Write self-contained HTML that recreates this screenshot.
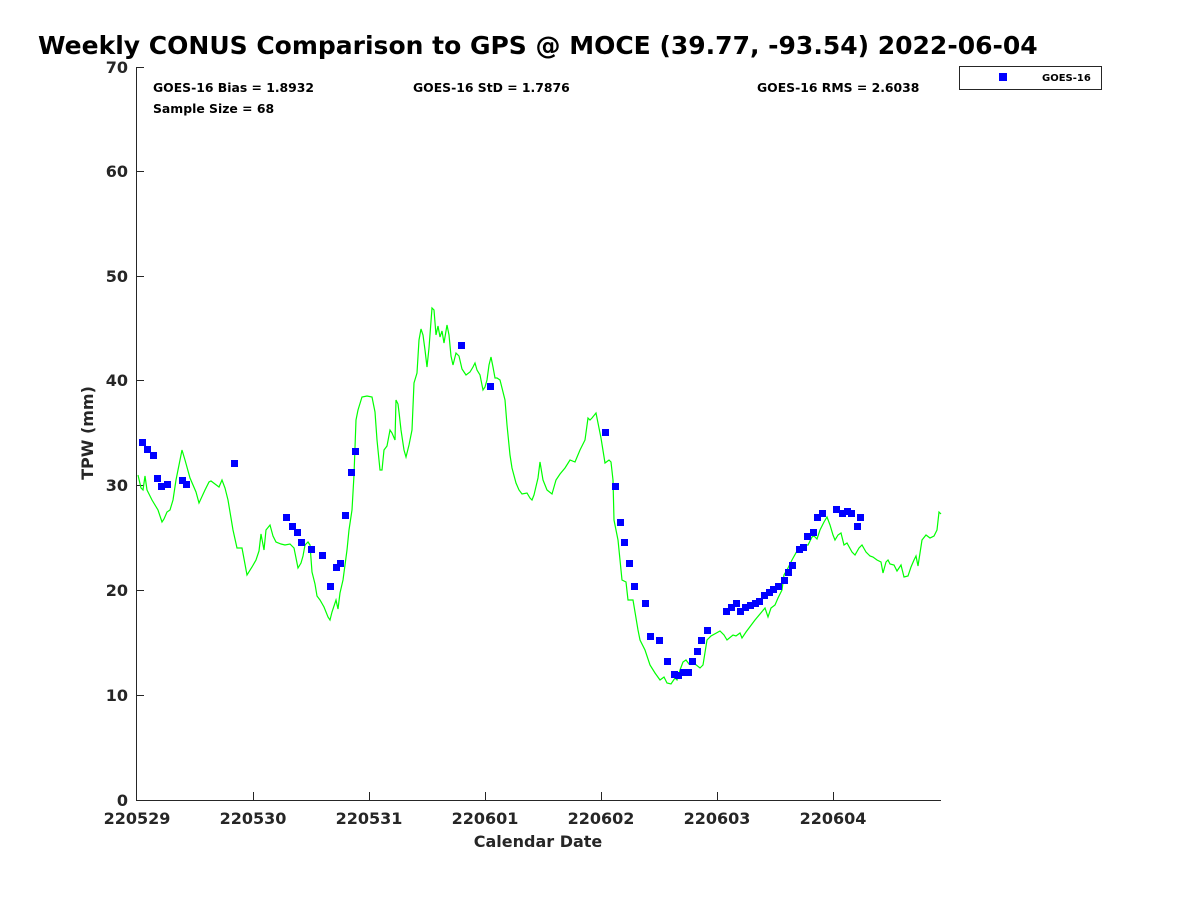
<!DOCTYPE html>
<html><head><meta charset="utf-8"><style>body{margin:0;background:#fff}svg{display:block}text{font-family:"DejaVu Sans","Liberation Sans",sans-serif;font-weight:bold}</style></head><body>
<svg width="1200" height="900" viewBox="0 0 1200 900">
<rect width="1200" height="900" fill="#fff"/>
<text x="38" y="54" font-size="25">Weekly CONUS Comparison to GPS @ MOCE (39.77, -93.54) 2022-06-04</text>
<g stroke="#262626" stroke-width="1" fill="none">
<line x1="136.5" y1="67" x2="136.5" y2="800"/>
<line x1="136" y1="800.5" x2="941" y2="800.5"/>
<line x1="136" y1="695.5" x2="144" y2="695.5"/><line x1="136" y1="590.5" x2="144" y2="590.5"/><line x1="136" y1="485.5" x2="144" y2="485.5"/><line x1="136" y1="380.5" x2="144" y2="380.5"/><line x1="136" y1="276.5" x2="144" y2="276.5"/><line x1="136" y1="171.5" x2="144" y2="171.5"/><line x1="136" y1="67.5" x2="144" y2="67.5"/>
<line x1="253.5" y1="800" x2="253.5" y2="792"/><line x1="369.5" y1="800" x2="369.5" y2="792"/><line x1="485.5" y1="800" x2="485.5" y2="792"/><line x1="601.5" y1="800" x2="601.5" y2="792"/><line x1="717.5" y1="800" x2="717.5" y2="792"/><line x1="833.5" y1="800" x2="833.5" y2="792"/>
</g>
<g font-size="16" fill="#262626" text-anchor="end">
<text x="128" y="806">0</text><text x="128" y="701">10</text><text x="128" y="596">20</text><text x="128" y="491">30</text><text x="128" y="386">40</text><text x="128" y="282">50</text><text x="128" y="177">60</text><text x="128" y="73">70</text>
</g>
<g font-size="16" fill="#262626" text-anchor="middle">
<text x="137" y="824">220529</text><text x="253" y="824">220530</text><text x="369" y="824">220531</text><text x="485" y="824">220601</text><text x="601" y="824">220602</text><text x="717" y="824">220603</text><text x="833" y="824">220604</text>
<text x="538" y="847">Calendar Date</text>
</g>
<text transform="translate(93,433) rotate(-90)" font-size="16" fill="#262626" text-anchor="middle">TPW (mm)</text>
<g font-size="12.4" fill="#000">
<text x="153" y="92">GOES-16 Bias = 1.8932</text><text x="413" y="92">GOES-16 StD = 1.7876</text><text x="757" y="92">GOES-16 RMS = 2.6038</text><text x="153" y="113">Sample Size = 68</text>
</g>
<rect x="959.5" y="66.5" width="142" height="23" fill="#fff" stroke="#262626"/>
<rect x="999" y="73" width="8" height="8" fill="#0000ff"/>
<text x="1042" y="81" font-size="10">GOES-16</text>
<polyline fill="none" stroke="#00ff00" stroke-width="1.2" points="138,475 141,488 143,490 145,476 147,490 152,500 158,510 162,522 164,519 167,512 170,510 173,500 176,480 179,465 182,450 185,460 190,478 196,492 199,503 205,490 209,482 211,481 215,484 219,487 222,480 225,488 228,500 233,530 237,548 242,548 247,575 252,567 256,560 259,551 261,534 264,550 266,530 270,525 273,536 276,542 281,544 285,545 290,544 294,548 296,558 298,568 301,563 303,556 305,545 308,542 310,545 312,572 315,584 317,596 320,600 324,607 328,617 330,620 332,612 336,600 338,609 340,593 343,580 347,550 349,530 352,510 354,475 356,420 358,410 362,397 367,396 372,397 375,412 377,440 380,470 382,470 384,450 387,446 390,430 392,433 395,440 396,400 398,404 399,412 401,430 404,450 406,457 409,445 412,430 414,383 417,373 419,340 421,329 423,335 425,350 427,367 429,348 432,308 434,310 436,335 438,326 440,337 442,331 444,343 447,325 449,335 451,356 453,365 456,353 459,356 462,369 466,375 470,372 473,367 475,363 477,370 480,375 483,390 485,387 487,380 489,365 491,357 493,367 495,378 497,378 500,380 505,400 507,425 510,455 512,468 516,483 519,490 522,494 527,493 530,498 532,500 534,495 538,478 540,462 543,480 547,490 552,494 556,480 560,474 565,468 570,460 575,462 580,450 585,440 588,418 590,420 592,418 596,413 601,438 605,463 609,460 611,462 613,480 614,520 618,540 622,580 626,582 628,600 633,600 638,630 640,640 645,650 650,665 655,673 660,680 664,677 667,683 671,684 675,678 677,680 680,670 683,662 686,660 689,664 695,664 700,668 703,665 707,640 711,636 720,631 724,635 727,640 733,635 736,636 740,633 742,638 746,632 749,628 755,620 760,614 765,608 768,617 771,608 775,605 778,598 782,590 784,575 788,568 792,560 797,551 800,550 803,545 806,545 808,545 810,541 812,537 814,536 817,539 820,530 824,522 827,517 830,525 833,535 835,540 838,535 841,533 844,545 847,543 852,552 855,555 859,548 862,545 866,552 870,556 873,557 877,560 881,562 883,573 886,562 888,560 890,564 894,565 897,571 901,565 904,577 908,576 911,567 914,560 916,556 918,566 922,540 926,535 930,538 934,536 937,530 939,512 941,514"/>
<g fill="#0000ff">
<rect x="139" y="439" width="7" height="7"/><rect x="144" y="446" width="7" height="7"/><rect x="150" y="452" width="7" height="7"/><rect x="154" y="475" width="7" height="7"/><rect x="158" y="483" width="7" height="7"/><rect x="164" y="481" width="7" height="7"/><rect x="179" y="477" width="7" height="7"/><rect x="183" y="481" width="7" height="7"/><rect x="231" y="460" width="7" height="7"/><rect x="283" y="514" width="7" height="7"/><rect x="289" y="523" width="7" height="7"/><rect x="294" y="529" width="7" height="7"/><rect x="298" y="539" width="7" height="7"/><rect x="308" y="546" width="7" height="7"/><rect x="319" y="552" width="7" height="7"/><rect x="327" y="583" width="7" height="7"/><rect x="333" y="564" width="7" height="7"/><rect x="337" y="560" width="7" height="7"/><rect x="342" y="512" width="7" height="7"/><rect x="348" y="469" width="7" height="7"/><rect x="352" y="448" width="7" height="7"/><rect x="458" y="342" width="7" height="7"/><rect x="487" y="383" width="7" height="7"/><rect x="602" y="429" width="7" height="7"/><rect x="612" y="483" width="7" height="7"/><rect x="617" y="519" width="7" height="7"/><rect x="621" y="539" width="7" height="7"/><rect x="626" y="560" width="7" height="7"/><rect x="631" y="583" width="7" height="7"/><rect x="642" y="600" width="7" height="7"/><rect x="647" y="633" width="7" height="7"/><rect x="656" y="637" width="7" height="7"/><rect x="664" y="658" width="7" height="7"/><rect x="671" y="671" width="7" height="7"/><rect x="675" y="672" width="7" height="7"/><rect x="680" y="669" width="7" height="7"/><rect x="685" y="669" width="7" height="7"/><rect x="689" y="658" width="7" height="7"/><rect x="694" y="648" width="7" height="7"/><rect x="698" y="637" width="7" height="7"/><rect x="704" y="627" width="7" height="7"/><rect x="723" y="608" width="7" height="7"/><rect x="728" y="604" width="7" height="7"/><rect x="733" y="600" width="7" height="7"/><rect x="737" y="608" width="7" height="7"/><rect x="742" y="604" width="7" height="7"/><rect x="747" y="602" width="7" height="7"/><rect x="752" y="600" width="7" height="7"/><rect x="756" y="598" width="7" height="7"/><rect x="761" y="592" width="7" height="7"/><rect x="766" y="589" width="7" height="7"/><rect x="770" y="586" width="7" height="7"/><rect x="775" y="583" width="7" height="7"/><rect x="781" y="577" width="7" height="7"/><rect x="785" y="569" width="7" height="7"/><rect x="789" y="562" width="7" height="7"/><rect x="796" y="546" width="7" height="7"/><rect x="800" y="544" width="7" height="7"/><rect x="804" y="533" width="7" height="7"/><rect x="810" y="529" width="7" height="7"/><rect x="814" y="514" width="7" height="7"/><rect x="819" y="510" width="7" height="7"/><rect x="833" y="506" width="7" height="7"/><rect x="839" y="510" width="7" height="7"/><rect x="844" y="508" width="7" height="7"/><rect x="848" y="510" width="7" height="7"/><rect x="854" y="523" width="7" height="7"/><rect x="857" y="514" width="7" height="7"/>
</g>
</svg>
</body></html>
